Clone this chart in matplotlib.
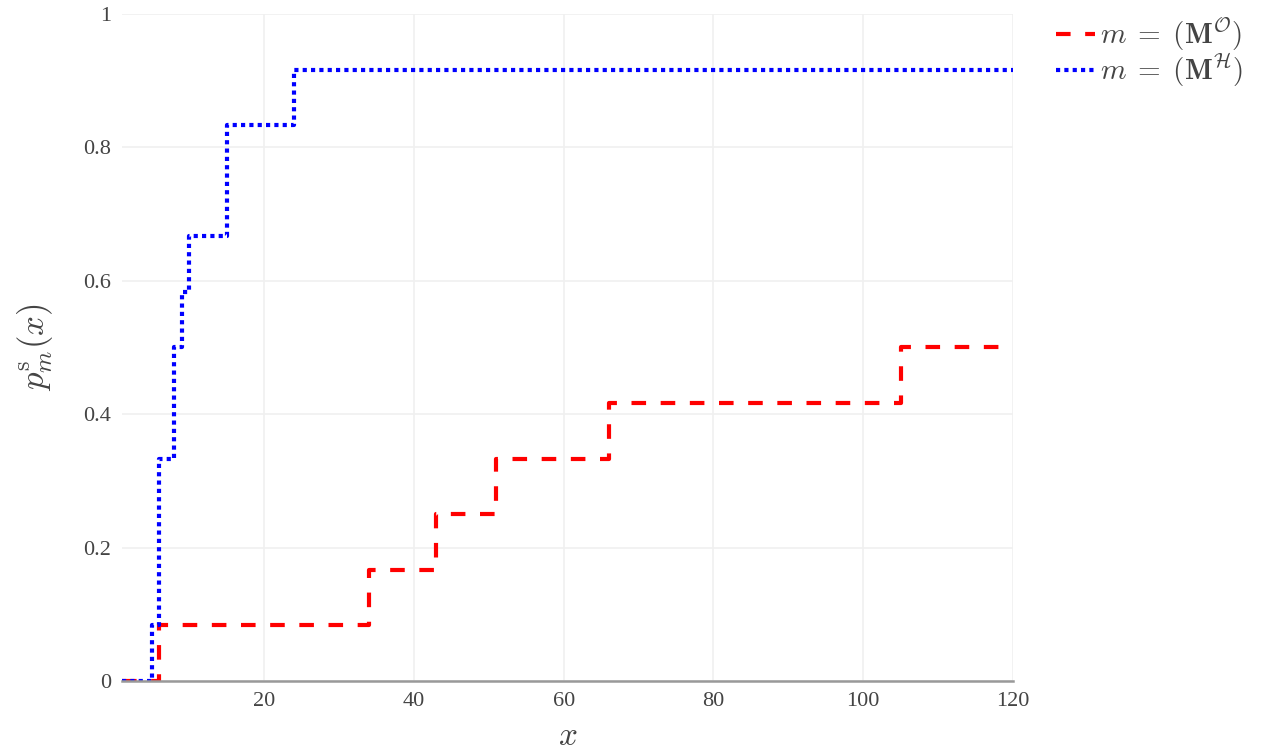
import matplotlib.pyplot as plt
import numpy as np

plt.rcParams['mathtext.fontset'] = 'cm'

# empirical step functions p_m^s(x), drawn as post-steps
x_obs = [1, 6, 34, 43, 51, 66, 105, 120]
p_obs = [0, 1/12, 2/12, 3/12, 4/12, 5/12, 6/12, 6/12]

x_hyp = [1, 5, 6, 8, 9, 10, 15, 24, 120]
p_hyp = [0, 1/12, 4/12, 6/12, 7/12, 8/12, 10/12, 11/12, 11/12]

xticks = [20, 40, 60, 80, 100, 120]
yticks = [0, 0.2, 0.4, 0.6, 0.8, 1]
ytick_labels = ['0', '0.2', '0.4', '0.6', '0.8', '1']

fig = plt.figure(figsize=(12.65, 7.52), dpi=100)
ax = fig.add_axes([0.0964, 0.0944, 0.7044, 0.887])

ax.step(x_obs, p_obs, where='post', color='red', lw=3,
        dashes=(3.5, 3.5), dash_capstyle='butt',
        label=r'$m\;=\;(\mathbf{M}^{\mathcal{O}})$')
ax.step(x_hyp, p_hyp, where='post', color='blue', lw=3,
        dashes=(1, 1), dash_capstyle='butt',
        label=r'$m\;=\;(\mathbf{M}^{\mathcal{H}})$')

ax.set_xlim(1, 120)
ax.set_ylim(0, 1)
ax.set_xticks(xticks)
ax.set_yticks(yticks)
ax.set_yticklabels(ytick_labels)
ax.grid(True, color='#f0f0f0', lw=1.2)
ax.set_axisbelow(True)
for s in ['top', 'right', 'left']:
    ax.spines[s].set_visible(False)
ax.spines['bottom'].set_color('#999999')
ax.spines['bottom'].set_linewidth(1.8)
ax.tick_params(length=0, labelsize=16, colors='#444444', pad=8)
for lab in ax.get_xticklabels() + ax.get_yticklabels():
    lab.set_family('Liberation Serif')

ax.set_xlabel(r'$x$', fontsize=24, color='#444444', labelpad=6)
ax.set_ylabel(r'$p_m^{\mathrm{s}}(x)$', fontsize=25, color='#444444', labelpad=20)

leg = ax.legend(loc='upper left', bbox_to_anchor=(1.035, 1.015), frameon=False,
                fontsize=21, handlelength=1.35, handletextpad=0.15,
                labelspacing=-0.05, borderaxespad=0)
for t in leg.get_texts():
    t.set_color('#444444')

fig.savefig('out.png', dpi=100)
